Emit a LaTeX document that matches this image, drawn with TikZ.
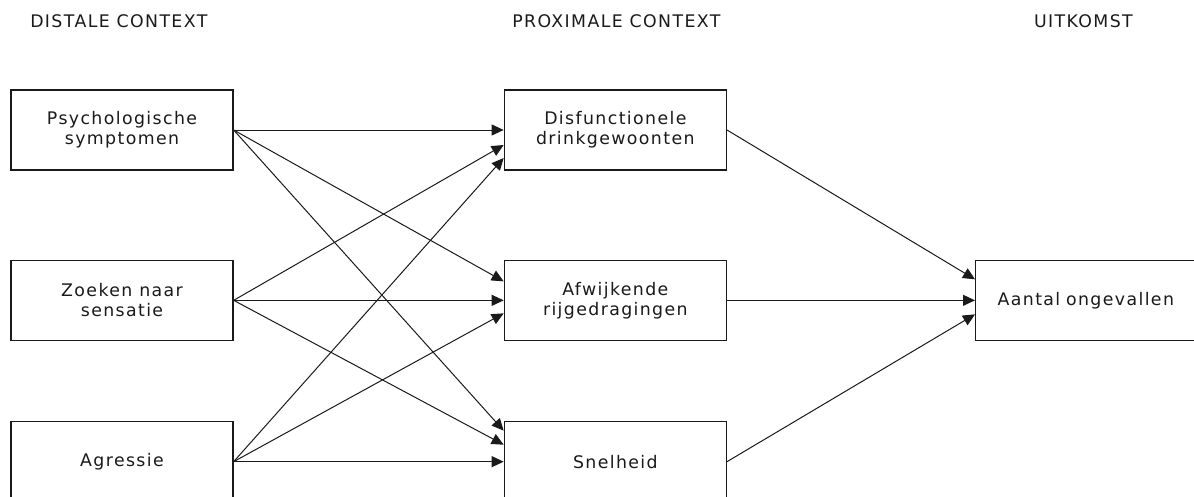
\documentclass[tikz,border=0pt]{standalone}
\usepackage{fontspec}
\setmainfont{DejaVu Sans}[LetterSpace=8]
\usetikzlibrary{arrows.meta,positioning,calc}
\definecolor{cInk}{HTML}{1A1A1A}
\tikzset{
  font=\fontsize{13}{15}\selectfont,
  hdr/.style={anchor=base west, inner sep=0pt, text=cInk},
  box/.style={draw=cInk, line width=1pt, fill=white, align=center, text=cInk, minimum width=166.5pt, minimum height=60pt, inner sep=2pt},
  pil/.style={-{Triangle[length=9pt,width=8.25pt]}, line width=0.75pt, draw=cInk},
}

\begin{document}
\begin{tikzpicture}[x=0.75pt, y=-0.75pt]
\useasboundingbox (0,0) rectangle (1194,496);
\clip (0,0) rectangle (1194,496);
% headers
\node[hdr] (hd) at (30,27) {DISTALE CONTEXT};
\node[hdr] (hp) at (512,27) {PROXIMALE CONTEXT};
\node[hdr, anchor=base east] (hu) at (1133,27) {UITKOMST};
% distale context
\node[box] (psy) at (122,130) {Psychologische\\symptomen};
\node[box, below=66.75pt of psy] (zoe) {Zoeken naar\\sensatie};
\node[box, below=60pt of zoe] (agr) {Agressie};
% proximale context
\node[box, right=202.5pt of psy] (disf) {Disfunctionele\\drinkgewoonten};
\node[box, right=202.5pt of zoe] (afw) {Afwijkende\\rijgedragingen};
\node[box, right=202.5pt of agr] (snel) {Snelheid};
% uitkomst
\node[box, right=186pt of afw, text width=150pt, inner xsep=16.5pt, align=left] (aant) {Aantal ongevallen};
\foreach \s/\t/\o in {psy/disf/0,zoe/disf/15,agr/disf/28,psy/afw/-19,zoe/afw/0,agr/afw/13,psy/snel/-31,zoe/snel/-17,agr/snel/0,disf/aant/-21,afw/aant/0,snel/aant/14}
  \draw[pil] (\s.east) -- ($(\t.west)+(0,\o)$);
\end{tikzpicture}
\end{document}
